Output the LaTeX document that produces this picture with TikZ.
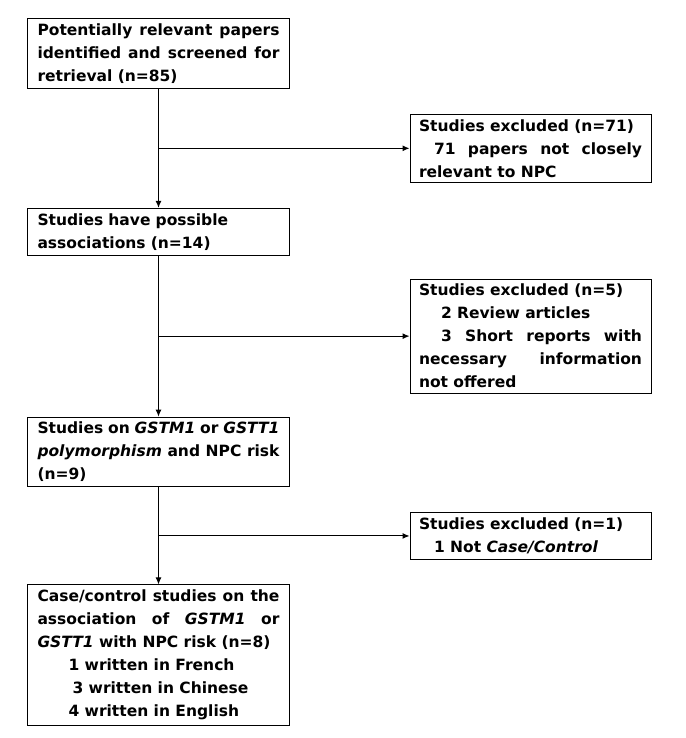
\documentclass[tikz,border=0pt]{standalone}
\usepackage{fontspec}
\setmainfont{DejaVu Sans}
\usepackage{tikz}
\usetikzlibrary{arrows.meta,positioning}

\begin{document}
\begin{tikzpicture}[x=1pt,y=-1pt,
        box/.style={draw,line width=1pt,font=\fontsize{15.5}{23}\selectfont\bfseries,
                    text width=242pt,align=justify,inner xsep=10pt,inner ysep=5pt},
        xbox/.style={box,text width=223pt,inner xsep=9pt},
        arr/.style={-{Latex[length=7pt,width=6pt]},line width=1pt}
      ]
        \useasboundingbox (0,0) rectangle (685,738);
        % main column
        \node[box,anchor=north west] (A) at (27,18)
          {Potentially relevant papers identified and screened for retrieval (n=85)};
        \node[box,align=left,below=119pt of A] (B)
          {Studies have possible\\associations (n=14)};
        \node[box,below=161pt of B] (C)
          {Studies on \textit{GSTM1} or \textit{GSTT1} \textit{polymorphism} and NPC risk (n=9)};
        \node[box,below=97pt of C] (D)
          {Case/control studies on the association of \textit{GSTM1} or \textit{GSTT1} with NPC risk (n=8)\par
           \hspace*{31pt}1 written in French\par
           \hspace*{35pt}3 written in Chinese\par
           \hspace*{31pt}4 written in English};
        % branch points
        \path (A) -- (B) coordinate[midway] (m1);
        \path (B) -- (C) coordinate[midway] (m2);
        \path (C) -- (D) coordinate[midway] (m3);
        % excluded
        \node[xbox,right=251pt of m1] (X1)
          {Studies excluded (n=71)\par\hspace*{15pt}71 papers not closely relevant to NPC};
        \node[xbox,right=251pt of m2] (X2)
          {Studies excluded (n=5)\par\hspace*{22pt}2 Review articles\par
           \hspace*{22pt}3 Short reports with necessary information\linebreak{} not offered};
        \node[xbox,right=251pt of m3] (X3)
          {Studies excluded (n=1)\par\hspace*{15pt}1 Not \textit{Case/Control}};
        \draw[arr] (A)--(B);
        \draw[arr] (B)--(C);
        \draw[arr] (C)--(D);
        \draw[arr] (m1)--(X1);
        \draw[arr] (m2)--(X2);
        \draw[arr] (m3)--(X3);
      \end{tikzpicture}
\end{document}
